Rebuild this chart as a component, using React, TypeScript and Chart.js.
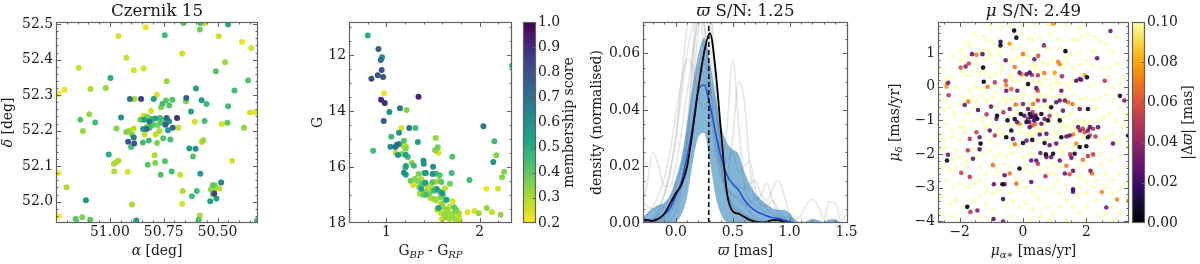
import React, { useEffect, useRef } from 'react';
import { Chart, registerables } from 'chart.js';

Chart.register(...registerables);

const FONT = "'DejaVu Serif', 'Liberation Serif', serif";
const TICK_SIZE = 13.9;
const LABEL_SIZE = 13.9;
const TITLE_SIZE = 16.7;
const FRAME_COLOR = '#616161';
const TEXT_COLOR = '#1a1a1a';

// ---------------- Panel 1: sky positions ----------------
const clusterName = 'Czernik 15';
const raRange = [50.312, 51.25];
const decRange = [51.94, 52.506];
const raTicks = [51.0, 50.75, 50.5];
const decTicks = [52.0, 52.1, 52.2, 52.3, 52.4, 52.5];
// [ra, dec, membership score]
const skyStars: [number, number, number][] = [
  [50.659,52.503,0.40],[50.579,52.503,0.45],[50.559,52.503,0.25],[50.451,52.499,0.50],[50.833,52.491,0.22],
  [50.582,52.485,0.38],[50.745,52.469,0.45],[50.960,52.466,0.25],[50.494,52.466,0.25],[50.386,52.450,0.22],
  [50.343,52.433,0.25],[50.664,52.417,0.25],[50.923,52.405,0.27],[50.465,52.393,0.32],[51.145,52.377,0.27],
  [50.889,52.370,0.25],[50.843,52.375,0.25],[50.508,52.367,0.42],[50.997,52.348,0.50],[50.736,52.339,0.33],
  [50.358,52.341,0.42],[51.211,52.315,0.22],[51.238,52.303,0.20],[51.090,52.317,0.30],[51.019,52.320,0.33],
  [50.600,52.319,0.55],[50.421,52.313,0.45],[50.907,52.289,0.70],[50.886,52.289,0.30],[50.855,52.289,0.85],
  [50.796,52.289,0.55],[50.782,52.301,0.25],[50.755,52.276,0.45],[50.739,52.285,0.40],[50.710,52.287,0.42],
  [50.645,52.292,0.75],[50.647,52.283,0.35],[50.574,52.286,0.55],[50.551,52.275,0.45],[50.451,52.269,0.45],
  [50.762,52.266,0.35],[50.724,52.271,0.42],[50.809,52.256,0.25],[50.623,52.254,0.55],[50.349,52.251,0.25],
  [50.324,52.252,0.22],[51.096,52.246,0.33],[50.844,52.242,0.25],[50.827,52.240,0.35],[50.948,52.237,0.60],
  [51.137,52.231,0.42],[50.858,52.231,0.38],[50.841,52.231,0.55],[50.816,52.226,0.70],[50.806,52.233,0.45],
  [50.789,52.234,0.55],[50.767,52.236,0.45],[50.750,52.229,0.42],[50.736,52.236,0.75],[50.725,52.226,0.60],
  [50.688,52.236,0.90],[50.682,52.208,0.28],[50.708,52.208,0.75],[50.742,52.217,0.75],[50.765,52.222,0.42],
  [50.778,52.215,0.35],[50.807,52.219,0.42],[50.798,52.217,0.40],[50.827,52.212,0.35],[50.846,52.205,0.55],
  [50.830,52.205,0.72],[50.815,52.208,0.45],[51.068,52.223,0.45],[50.969,52.206,0.35],[51.125,52.199,0.33],
  [50.924,52.196,0.35],[50.910,52.200,0.30],[50.889,52.206,0.28],[50.898,52.189,0.35],[50.889,52.181,0.65],
  [50.915,52.169,0.78],[50.887,52.164,0.78],[50.901,52.154,0.45],[50.847,52.167,0.45],[50.819,52.172,0.45],
  [50.838,52.189,0.28],[50.787,52.189,0.28],[50.770,52.199,0.30],[50.752,52.179,0.42],[50.730,52.201,0.55],
  [50.719,52.175,0.45],[50.781,52.165,0.35],[50.605,52.225,0.25],[50.560,52.227,0.45],[50.480,52.219,0.25],
  [50.454,52.222,0.40],[50.377,52.208,0.33],[50.566,52.173,0.32],[50.573,52.168,0.28],[50.631,52.150,0.55],
  [50.602,52.149,0.60],[50.614,52.127,0.42],[51.005,52.133,0.50],[50.981,52.107,0.30],[50.971,52.111,0.30],
  [50.960,52.115,0.30],[50.824,52.104,0.42],[50.792,52.131,0.30],[50.789,52.109,0.35],[50.744,52.114,0.42],
  [50.980,52.085,0.30],[50.917,52.084,0.25],[50.764,52.076,0.42],[50.713,52.085,0.45],[50.673,52.076,0.27],
  [50.580,52.079,0.55],[50.432,52.115,0.25],[51.238,52.080,0.20],[51.201,52.041,0.30],[50.662,52.030,0.30],
  [50.596,52.030,0.45],[50.619,52.015,0.45],[50.522,52.046,0.40],[50.512,52.046,0.35],[50.531,52.034,0.33],
  [50.515,52.034,0.30],[50.483,52.054,0.65],[50.492,52.037,0.28],[50.515,52.023,0.85],[50.522,52.020,0.35],
  [50.505,52.009,0.55],[50.534,52.001,0.55],[51.111,52.004,0.60],[50.664,51.994,0.25],[50.897,51.992,0.30],
  [51.238,51.959,0.20],[51.159,51.951,0.42],[51.128,51.956,0.35],[51.091,51.949,0.40],[50.877,51.947,0.55],
  [50.588,51.949,0.42],[50.582,51.961,0.30],[50.316,51.948,0.45],
];

// ---------------- Panel 2: colour-magnitude diagram ----------------
const colourRange = [0.6, 2.345];
const magRange = [10.82, 18.0];
const colourTicks = [1, 2];
const magTicks = [12, 14, 16, 18];
const memberRange = [0.2, 1.0];
const memberTicks = [0.2, 0.3, 0.4, 0.5, 0.6, 0.7, 0.8, 0.9, 1.0];
// [BP-RP, G, membership score]
const cmdStars: [number, number, number][] = [
  [0.801,11.298,0.50],[0.915,11.786,0.75],[0.954,12.083,0.60],[0.940,12.179,0.72],[0.950,12.536,0.78],
  [0.908,12.726,0.78],[0.840,12.845,0.80],[0.965,12.786,0.80],[0.975,13.369,0.22],[0.943,13.595,0.90],
  [0.982,13.714,0.90],[1.344,13.488,0.92],[1.145,13.905,0.68],[1.216,13.964,0.35],[1.032,14.036,0.60],
  [0.972,14.357,0.78],[1.160,14.607,0.25],[1.245,14.607,0.68],[1.312,14.607,0.45],[1.135,14.774,0.58],
  [1.053,14.917,0.45],[0.858,15.417,0.45],[1.043,15.274,0.60],[1.096,15.286,0.70],[1.113,15.202,0.72],
  [1.135,15.179,0.60],[1.188,15.060,0.42],[1.181,15.238,0.30],[1.213,15.274,0.28],[1.206,15.345,0.35],
  [1.099,15.500,0.30],[1.124,15.571,0.60],[1.167,15.536,0.35],[1.206,15.560,0.55],[1.230,15.643,0.45],
  [1.337,15.107,0.55],[1.528,14.964,0.33],[1.550,15.298,0.38],[1.521,15.405,0.35],[1.557,15.488,0.25],
  [1.706,15.631,0.42],[2.039,14.548,0.68],[2.156,15.083,0.45],[2.177,15.583,0.35],[2.145,15.821,0.60],
  [2.262,16.167,0.35],[2.238,16.369,0.35],[1.273,15.857,0.35],[1.209,15.964,0.55],[1.202,16.024,0.45],
  [1.294,15.952,0.45],[1.397,15.774,0.60],[1.401,15.881,0.60],[1.500,15.988,0.60],[1.188,16.202,0.60],
  [1.209,16.274,0.55],[1.344,16.250,0.35],[1.404,16.214,0.45],[1.422,16.214,0.58],[1.496,16.250,0.60],
  [1.532,16.238,0.45],[1.571,16.298,0.42],[1.699,16.214,0.45],[1.890,16.464,0.45],[1.259,16.488,0.38],
  [1.305,16.429,0.35],[1.333,16.500,0.35],[1.376,16.440,0.30],[1.287,16.643,0.25],[1.351,16.702,0.35],
  [1.387,16.595,0.42],[1.418,16.560,0.55],[1.433,16.655,0.28],[1.493,16.548,0.42],[1.532,16.524,0.30],
  [1.564,16.500,0.30],[1.589,16.536,0.42],[1.681,16.595,0.38],[1.372,16.774,0.55],[1.408,16.893,0.35],
  [1.436,16.845,0.30],[1.358,16.952,0.30],[1.390,16.988,0.35],[1.422,16.988,0.45],[1.457,16.952,0.35],
  [1.486,16.750,0.30],[1.507,16.845,0.45],[1.539,16.786,0.55],[1.564,16.869,0.42],[1.596,16.929,0.60],
  [1.628,16.762,0.28],[1.578,17.083,0.35],[1.606,16.988,0.42],[1.472,17.107,0.30],[1.514,17.143,0.33],
  [1.535,17.202,0.28],[1.621,17.202,0.35],[1.645,17.167,0.55],[1.709,17.226,0.25],[1.592,17.321,0.33],
  [1.557,17.464,0.55],[1.543,17.524,0.28],[1.606,17.440,0.33],[1.649,17.524,0.33],[1.677,17.417,0.28],
  [1.727,17.440,0.40],[1.582,17.643,0.27],[1.621,17.679,0.33],[1.660,17.607,0.30],[1.695,17.702,0.33],
  [1.727,17.619,0.33],[1.748,17.536,0.35],[1.777,17.643,0.30],[1.773,17.774,0.28],[1.596,17.857,0.27],
  [1.638,17.798,0.33],[1.677,17.857,0.30],[1.709,17.798,0.33],[1.741,17.881,0.30],[1.784,17.905,0.28],
  [1.762,17.964,0.27],[2.071,16.774,0.22],[2.195,16.774,0.25],[1.869,17.619,0.25],[1.943,17.571,0.25],
  [1.989,17.655,0.32],[2.074,17.464,0.33],[2.131,17.607,0.27],[2.223,17.702,0.33],[2.345,12.381,0.45],
];

// ---------------- Panel 3: parallax densities ----------------
const parallaxSN = '1.25';
const parallaxRange = [-0.287, 1.512];
const densityRange = [0, 0.0711];
const parallaxTicks = [0.0, 0.5, 1.0, 1.5];
const densityTicks = [0.0, 0.02, 0.04, 0.06];
const parallaxMarker = 0.29;
const parallaxGrid = [-0.30,-0.25,-0.20,-0.15,-0.10,-0.05,0.00,0.05,0.10,0.15,0.20,0.25,0.30,0.35,0.40,0.45,0.50,0.55,0.60,0.65,0.70,0.75,0.80,0.85,0.90,0.95,1.00,1.05,1.10,1.15,1.20,1.25,1.30,1.35,1.40,1.45,1.50,1.55];
const densityBlack = [0.0012,0.0011,0.0007,0.0015,0.0033,0.0068,0.0105,0.0135,0.020,0.033,0.048,0.0605,0.0672,0.054,0.0313,0.0105,0.0042,0.0033,0.0022,0.0011,0.0005,0.0002,0.0004,0.0010,0.0010,0.0004,0.0001,0,0,0,0,0,0,0,0,0,0,0];
const densityMedian = [0.0004,0.0007,0.0010,0.0017,0.0030,0.0052,0.0095,0.0145,0.0235,0.0345,0.047,0.0488,0.0417,0.032,0.023,0.017,0.0138,0.0117,0.0083,0.0059,0.0043,0.0033,0.0025,0.0019,0.0016,0.0011,0.0005,0.0001,0,0,0,0,0,0,0,0,0,0];
const densityUpper = [0.0015,0.0035,0.0052,0.0064,0.0072,0.0098,0.0155,0.023,0.035,0.049,0.060,0.0655,0.0575,0.0446,0.034,0.0285,0.026,0.0245,0.0185,0.0137,0.0104,0.0081,0.0065,0.0052,0.0047,0.0046,0.0035,0.0008,0.0001,0.0006,0.0015,0.0010,0.0003,0.0013,0.0013,0.0002,0,0];
const densityLower = [0,0,0,0,0,0,0.0003,0.003,0.0092,0.0215,0.0305,0.0318,0.022,0.0095,0.003,0.0003,0,0,0,0,0,0,0,0,0,0,0,0,0,0,0,0,0,0,0,0,0,0];
const densitySamples = [
  [0.003,0.014,0.025,0.020,0.013,0.013,0.020,0.032,0.046,0.060,0.072,0.078,0.064,0.040,0.020,0.010,0.007,0.005,0.003,0.002,0.001,0,0,0,0,0,0,0,0,0,0,0,0,0,0,0,0,0],
  [0,0,0.001,0.003,0.006,0.009,0.014,0.020,0.028,0.038,0.050,0.058,0.050,0.032,0.022,0.034,0.058,0.036,0.014,0.008,0.006,0.005,0.003,0.001,0,0,0,0,0,0,0,0,0,0,0,0,0,0],
  [0,0,0,0.001,0.002,0.004,0.007,0.014,0.028,0.048,0.068,0.080,0.074,0.048,0.026,0.018,0.030,0.050,0.044,0.020,0.008,0.010,0.014,0.008,0.003,0.001,0,0,0,0,0,0,0,0,0,0,0,0],
  [0,0,0.001,0.004,0.010,0.018,0.030,0.050,0.070,0.085,0.080,0.060,0.040,0.025,0.016,0.012,0.010,0.008,0.006,0.007,0.009,0.008,0.005,0.003,0.002,0.002,0.002,0.001,0.003,0.0065,0.0085,0.006,0.0015,0.0075,0.007,0.001,0.003,0.006],
  [0,0,0,0,0.001,0.003,0.008,0.016,0.030,0.045,0.055,0.052,0.040,0.028,0.020,0.016,0.014,0.013,0.012,0.014,0.015,0.010,0.008,0.012,0.015,0.010,0.003,0.001,0,0,0,0,0,0,0,0,0,0],
  [0,0,0,0,0,0.001,0.004,0.012,0.030,0.060,0.090,0.100,0.085,0.050,0.020,0.010,0.006,0.004,0.002,0.001,0,0,0,0,0,0,0,0,0,0,0,0,0,0,0,0,0,0],
  [0.001,0.003,0.006,0.010,0.016,0.025,0.038,0.050,0.058,0.055,0.045,0.040,0.045,0.040,0.025,0.012,0.006,0.004,0.003,0.002,0.001,0,0,0,0,0,0,0,0,0,0,0,0,0,0,0,0,0],
  [0,0,0,0,0.002,0.006,0.012,0.020,0.035,0.055,0.075,0.070,0.050,0.030,0.020,0.022,0.025,0.018,0.020,0.022,0.012,0.006,0.006,0.008,0.005,0.002,0,0,0,0,0,0,0,0,0,0,0,0],
  [0.008,0.006,0.005,0.006,0.010,0.018,0.030,0.045,0.060,0.070,0.075,0.070,0.050,0.030,0.018,0.012,0.010,0.009,0.007,0.004,0.002,0.001,0,0,0,0,0,0,0,0,0,0,0,0,0,0,0,0],
];

// ---------------- Panel 4: proper motions ----------------
const pmSN = '2.49';
const pmRaRange = [-2.684, 3.347];
const pmDecRange = [-4.05, 1.926];
const pmRaTicks = [-2, 0, 2];
const pmDecTicks = [1, 0, -1, -2, -3, -4];
const dparRange = [0, 0.1];
const dparTicks = [0.0, 0.02, 0.04, 0.06, 0.08, 0.1];
// [pmra, pmdec, |dparallax|]
const pmStars: [number, number, number][] = [
  [0.95,1.87,0.08],[-0.28,1.67,0.0],[-0.21,1.46,0.0],[2.76,1.66,0.03],[-0.71,1.34,0.015],[-0.71,1.23,0.005],
  [-0.42,1.28,0.08],[0.66,1.23,0.04],[1.34,1.06,0.0],[-1.61,0.97,0.03],[-1.47,0.95,0.07],[-1.28,0.97,0.025],
  [2.34,0.85,0.03],[0,0.97,0.07],[0.36,0.82,0.03],[0.48,0.92,0.06],[1.11,0.74,0.075],[1.16,0.67,0.075],
  [-0.55,0.79,0.03],[-1.71,0.69,0.055],[-1.81,0.60,0.04],[-1.97,0.57,0.06],[-1.26,0.57,0.0],[-0.26,0.59,0.07],
  [-0.11,0.42,0.03],[-0.05,0.37,0.07],[0.11,0.37,0.03],[0.21,0.42,0.02],[0.28,0.35,0.045],[0.47,0.34,0.05],
  [0.67,0.41,0.07],[1.00,0.42,0.08],[1.23,0.31,0.045],[-2.40,0.08,0.07],[-2.36,0.12,0.035],[-2.42,0.0,0.08],
  [-2.35,-0.25,0.05],[-1.24,0.15,0.0],[-1.12,0.0,0.07],[-0.89,0.13,0.05],[-0.55,0.18,0.055],[-0.53,0.05,0.07],
  [-0.53,-0.12,0.03],[-0.37,-0.07,0.065],[-0.18,-0.12,0.03],[0.16,0.08,0.005],[0.42,-0.04,0.03],[0.46,-0.12,0.055],
  [1.21,-0.12,0.03],[1.79,0.23,0.03],[1.95,0.34,0.08],[2.02,0.28,0.005],[1.68,0.18,0.025],[1.84,0.21,0.03],
  [2.58,0.18,0.05],[3.06,-0.27,0.005],[3.20,-0.41,0.035],[-1.84,-0.54,0.03],[-1.73,-0.44,0.07],[-1.01,-0.59,0.03],
  [-1.42,-0.69,0.025],[-1.15,-0.82,0.05],[-0.82,-0.86,0.0],[-0.62,-0.76,0.05],[-0.42,-0.66,0.03],[-0.23,-0.53,0.07],
  [0,-0.51,0.035],[0.16,-0.66,0.03],[0.32,-0.51,0.07],[0.47,-0.41,0.05],[0.68,-0.41,0.03],[0.89,-0.61,0.005],
  [1.05,-0.46,0.03],[1.16,-0.41,0.03],[1.32,-0.41,0.03],[1.42,-0.46,0.07],[1.56,-0.51,0.07],[1.79,-0.66,0.03],
  [2.05,-0.66,0.005],[1.26,-0.71,0.03],[-0.07,-0.81,0.0],[0.04,-0.86,0.02],[0.21,-0.81,0.01],[0.32,-0.86,0.03],
  [0.39,-0.91,0.02],[0.58,-0.81,0.005],[0.68,-0.96,0.03],[0.84,-0.86,0.05],[1.16,-1.00,0.0],[0.79,-1.00,0.005],
  [-0.84,-0.96,0.03],[-0.49,-1.00,0.005],[-0.26,-0.96,0.005],[-0.19,-1.05,0.03],[-0.11,-1.10,0.075],[0.11,-1.05,0.01],
  [0.39,-1.10,0.07],[0.58,-1.10,0.03],[1.74,-1.20,0.03],[1.89,-1.25,0.05],[2.11,-1.20,0.025],[2.21,-1.25,0.05],
  [2.37,-1.20,0.03],[-0.37,-1.30,0.005],[0.21,-1.20,0.03],[-1.05,-1.30,0.03],[-1.47,-1.35,0.055],[-0.89,-1.45,0.05],
  [-0.53,-1.50,0.0],[-0.32,-1.55,0.03],[0.29,-1.58,0.005],[0.53,-1.42,0.03],[0.74,-1.40,0.03],[1.21,-1.50,0.0],
  [1.37,-1.48,0.03],[1.47,-1.45,0.025],[1.58,-1.42,0.07],[2.05,-1.50,0.005],[2.11,-1.45,0.05],[2.29,-1.48,0.05],
  [-1.37,-1.50,0.03],[-1.68,-1.55,0.05],[-1.34,-1.69,0.0],[-1.37,-1.86,0.025],[-1.74,-1.89,0.05],[-0.26,-1.71,0.07],
  [0,-1.67,0.005],[0.11,-1.60,0.03],[0.68,-1.67,0.005],[0.84,-1.74,0.03],[1.05,-1.69,0.03],[1.68,-1.69,0.075],
  [1.79,-1.79,0.0],[2.00,-1.77,0.005],[2.84,-1.69,0.03],[3.32,-1.45,0.0],[0.55,-1.97,0.03],[0.72,-2.01,0.005],
  [0.74,-2.09,0.03],[0.89,-2.09,0.03],[0.95,-1.99,0.005],[1.16,-2.19,0.03],[1.49,-2.01,0.05],[1.63,-1.99,0.005],
  [1.53,-2.11,0.03],[2.05,-2.06,0.05],[2.21,-2.01,0.055],[1.89,-2.17,0.07],[-2.37,-2.02,0.03],[-2.40,-2.19,0.005],
  [-1.58,-2.14,0.03],[0.26,-2.19,0.03],[0.42,-2.19,0.03],[0.47,-2.29,0.05],[-0.11,-2.43,0.0],[-0.95,-2.33,0.07],
  [1.37,-2.35,0.07],[1.47,-2.60,0.06],[1.58,-2.50,0.03],[-1.95,-2.56,0.055],[-1.68,-2.68,0.05],[-0.58,-2.63,0.03],
  [-0.42,-2.58,0.07],[-0.21,-2.88,0.07],[0.26,-2.83,0.03],[0.71,-2.66,0.05],[1.32,-2.58,0.03],[1.58,-3.05,0.02],
  [1.58,-3.12,0.025],[2.13,-2.50,0.035],[2.18,-2.58,0.07],[2.49,-3.13,0.075],[-0.92,-2.90,0.03],[-0.65,-2.90,0.0],
  [-0.58,-2.90,0.03],[-0.63,-3.34,0.02],[-1.76,-3.57,0.0],[-1.66,-3.72,0.05],[-1.44,-3.68,0.035],[-0.93,-3.93,0.025],
  [-0.63,-4.01,0.03],[2.63,-3.59,0.035],[2.97,-3.35,0.075],[3.32,-3.39,0.08],
  [0.25,-0.90,0.01],[0.35,-1.00,0.02],[0.40,-0.85,0.04],[0.30,-1.15,0.06],[0.20,-1.05,0.03],[0.45,-0.95,0.005],
  [0.30,-0.75,0.05],[0.15,-0.95,0.04],[1.80,-1.30,0.04],[1.95,-1.35,0.06],[2.05,-1.30,0.03],
];
// stars with |dparallax| above the colour range
const pmFaint: [number, number][] = [
  [-1.05,1.83],[-0.68,1.77],[-0.37,1.83],[0,1.80],[0.37,1.85],[0.84,1.83],[1.37,1.83],[1.79,1.75],[2.00,1.87],[2.05,1.56],
  [2.26,1.51],[-1.53,1.56],[-1.26,1.51],[-1.14,1.38],[-0.95,1.31],[-0.05,1.56],[0.16,1.46],[0.32,1.38],[0.53,1.46],[0.84,1.56],
  [1.11,1.41],[1.58,1.41],[1.74,1.36],[1.84,1.51],[1.16,1.16],[0.74,1.16],[0.42,1.11],[0.11,1.06],[-0.11,1.21],[-0.32,1.11],
  [-1.05,1.01],[-1.21,1.11],[-1.37,1.06],[-1.68,1.21],[-0.79,1.16],[1.37,0.87],[1.53,0.97],[1.79,1.01],[2.21,1.06],[2.63,1.26],
  [2.84,1.06],[2.42,1.36],[2.95,1.46],[-1.74,1.31],[-1.95,1.06],[-2.16,0.92],
  [-1.95,0.77],[-1.74,0.87],[-1.47,0.75],[-1.16,0.82],[-1.00,0.92],[-0.89,0.72],[-0.74,0.97],[-0.68,0.62],[-0.47,0.82],[-0.32,0.77],
  [-0.16,0.87],[0,0.72],[0.16,0.87],[0.26,0.67],[0.42,0.62],[0.63,0.72],[0.79,0.67],[0.95,0.82],[1.26,0.57],[1.42,0.72],
  [1.58,0.57],[1.79,0.67],[2.00,0.77],[2.21,0.62],[2.47,0.57],[2.74,0.57],[3.00,0.67],[3.21,0.33],[-1.89,0.42],[-1.74,0.33],
  [-1.58,0.47],[-1.37,0.37],[-1.16,0.42],[-1.05,0.28],[-0.84,0.37],[-0.68,0.47],[-0.42,0.28],[-0.32,0.18],[-0.11,0.13],[0.32,0.18],
  [0.53,0.13],[0.74,0.23],[0.89,0.08],[1.05,0.13],[1.37,0.08],[1.53,0.18],[2.11,0.03],[2.32,0.08],[2.84,-0.02],[3.05,0.08],
  [-2.42,0.23],[-2.53,0.47],[-2.26,0.28],[-2.11,-0.02],[-1.68,-0.12],[-1.53,0.03],[-1.37,-0.07],[-1.16,-0.12],[-0.84,-0.17],[-0.68,-0.02],
  [-2.63,-0.22],[-2.47,-0.41],[-2.32,-0.61],[-2.16,-0.81],[-2.00,-0.51],[-1.89,-0.32],[-1.63,-0.32],[-1.47,-0.41],[-1.32,-0.27],[-1.16,-0.41],
  [-0.95,-0.32],[-0.74,-0.46],[-0.63,-0.32],[-0.47,-0.41],[-0.32,-0.36],[-0.16,-0.32],[0,-0.22],[0.21,-0.27],[0.42,-0.32],[0.58,-0.22],
  [0.74,-0.27],[0.95,-0.32],[1.16,-0.27],[1.37,-0.32],[1.58,-0.22],[1.79,-0.36],[2.00,-0.32],[2.21,-0.41],[2.42,-0.32],[2.63,-0.22],
  [2.84,-0.41],[3.05,-0.61],[3.26,-0.81],[-2.63,-0.91],[-2.42,-1.10],[-2.26,-1.30],[-2.00,-1.20],[-1.89,-1.00],[-1.74,-0.81],[-1.58,-1.00],
  [-1.26,-1.05],[-1.16,-1.20],[-1.00,-1.10],[-0.74,-1.20],[-0.63,-1.40],[-0.42,-1.79],[-0.11,-1.35],[0.11,-1.40],[0.42,-1.35],[0.63,-1.30],
  [0.95,-1.20],[1.05,-1.35],[1.26,-1.30],[1.42,-1.25],[1.58,-1.10],[1.68,-1.00],[1.89,-1.00],[2.00,-1.10],[2.32,-1.00],[2.53,-0.91],
  [2.74,-0.81],[2.95,-1.00],[3.16,-1.20],[-2.63,-1.40],[-2.53,-1.60],[-2.21,-1.50],[-2.00,-1.60],[-1.84,-1.40],[-1.05,-1.60],[-0.84,-1.69],
  [-0.11,-1.79],[0.32,-1.79],[1.16,-1.79],[1.37,-1.69],[1.58,-1.79],[2.42,-1.60],[2.63,-1.50],[2.84,-1.40],[3.05,-1.60],[3.26,-1.79],
  [-2.58,-1.89],[-2.42,-1.79],[-2.11,-1.89],[-2.00,-2.09],[-1.79,-2.19],[-1.47,-2.09],[-1.26,-1.99],[-1.05,-1.89],[-0.89,-2.09],[-0.74,-1.99],
  [-0.53,-2.09],[-0.32,-1.99],[0,-2.09],[0.21,-1.99],[0.95,-2.29],[1.16,-2.38],[1.79,-2.38],[2.00,-2.29],[2.42,-1.99],[2.74,-2.19],
  [3.05,-2.09],[3.26,-2.38],[-2.53,-2.38],[-2.32,-2.48],[-2.11,-2.38],[-1.79,-2.38],[-1.37,-2.38],[-1.16,-2.58],[-0.84,-2.48],[-0.63,-2.29],
  [-0.42,-2.38],[0.11,-2.48],[0.32,-2.58],[0.53,-2.48],[0.74,-2.38],[0.95,-2.58],[1.79,-2.68],[2.00,-2.83],[2.32,-2.78],[2.63,-2.58],
  [2.84,-2.78],[3.05,-2.58],[3.26,-2.88],[-2.42,-2.78],[-2.21,-2.98],[-2.00,-2.88],[-1.79,-2.98],[-1.58,-2.88],[-1.37,-2.78],[-1.16,-2.98],
  [-0.95,-3.17],[-0.74,-3.07],[-0.42,-3.17],[-0.11,-3.07],[0.11,-2.98],[0.32,-3.17],[0.53,-2.98],[0.74,-3.07],[0.95,-2.98],[1.16,-3.17],
  [1.37,-2.98],[1.79,-2.98],[2.00,-3.17],[2.21,-2.98],[2.63,-2.98],[2.84,-3.17],[3.05,-3.07],[-2.53,-3.27],[-2.32,-3.47],[-2.11,-3.37],
  [-1.89,-3.57],[-1.58,-3.37],[-1.37,-3.27],[-1.16,-3.47],[-0.95,-3.66],[-0.53,-3.47],[-0.32,-3.37],[-0.11,-3.57],[0.11,-3.47],[0.32,-3.66],
  [0.53,-3.37],[0.74,-3.57],[0.95,-3.76],[1.16,-3.57],[1.37,-3.37],[1.58,-3.57],[1.79,-3.76],[2.00,-3.57],[2.32,-3.37],[2.63,-3.76],
  [2.84,-3.57],[3.05,-3.76],[-2.53,-3.76],[-2.21,-3.86],[-2.00,-3.96],[-1.37,-3.86],[-1.05,-3.96],[-0.32,-3.86],[0.21,-3.96],[0.53,-3.86],
  [0.84,-3.96],[1.37,-3.96],[2.00,-3.96],[2.42,-3.86],[2.84,-3.96],
  [0.1,-0.6],[0.5,-0.6],[0.8,-0.7],[-0.2,-0.75],[0.6,-1.25],[0.2,-1.35],[-0.3,-0.9],[0.9,-1.0],[1.3,-0.9],[1.5,-0.8],
  [-0.6,-0.7],[-0.9,-0.6],[0.05,0.0],[0.6,0.05],[0.9,-0.1],[-0.4,0.35],[0.35,0.5],[1.0,0.3],[1.35,-1.15],[1.7,-1.4],
  [2.1,-1.05],[1.95,-1.5],[0.7,-1.55],[0.4,-1.6],[-0.8,-1.35],[-1.3,-0.9],[-1.5,-0.6],[1.25,-1.95],[0.6,-2.0],[1.45,-0.05],
  [0.12,-0.92],[0.28,-0.62],[0.52,-0.78],[0.66,-1.12],[0.45,-1.25],[-0.05,-1.2],[-0.15,-0.55],[0.2,-0.45],[0.75,-0.55],[1.05,-0.82],
  [1.2,-1.1],[0.95,-1.45],[0.3,-1.45],[-0.45,-1.15],[-0.55,-0.5],[0.02,0.3],[0.55,0.42],[1.15,0.1],[-0.95,0.0],[-1.35,0.55],
  [1.62,-1.28],[1.88,-1.12],[2.2,-1.42],[1.72,-0.55],[2.3,-0.62],[-1.85,-1.2],[-1.55,-1.85],[0.1,-2.3],[0.8,-2.55],[-0.7,-2.6],
  [1.1,-2.75],[-0.25,-2.75],[1.75,-3.2],[-1.2,-3.15],[0.45,-3.3],[2.45,-2.3],[-2.2,-2.15],[2.7,0.3],[-2.5,-0.7],[3.2,-1.1],
];

// ---------------- colour maps ----------------
const VIRIDIS = ['#440154','#482475','#414487','#355f8d','#2a788e','#21918c','#22a884','#44bf70','#7ad151','#bddf26','#fde725'];
const INFERNO = ['#000004','#160b39','#420a68','#6a176e','#932667','#bc3754','#dd513a','#f37819','#fca50a','#f6d746','#fcffa4'];

const hexRGB = (h: string) => [1, 3, 5].map((i) => parseInt(h.slice(i, i + 2), 16));
function cmap(stops: string[], t: number): number[] {
  const tt = Math.min(1, Math.max(0, t));
  const n = stops.length - 1;
  const f = tt * n;
  const i = Math.min(n - 1, Math.floor(f));
  const u = f - i;
  const a = hexRGB(stops[i]);
  const b = hexRGB(stops[i + 1]);
  return [0, 1, 2].map((k) => Math.round(a[k] + (b[k] - a[k]) * u));
}
const rgba = (c: number[], al = 1) => `rgba(${c[0]},${c[1]},${c[2]},${al})`;
const memberT = (s: number) => 1 - (s - memberRange[0]) / (memberRange[1] - memberRange[0]);
const memberColour = (s: number) => rgba(cmap(VIRIDIS, memberT(s)));
const dparT = (v: number) => (v - dparRange[0]) / (dparRange[1] - dparRange[0]);

// ---------------- drawing helpers ----------------
type Seg = { t: string; it?: boolean; sub?: boolean };
type Lbl = { segs: Seg[]; x: number | 'center'; y: number; size: number; rot?: boolean };

function drawRich(ctx: CanvasRenderingContext2D, l: Lbl, x: number) {
  ctx.save();
  ctx.fillStyle = TEXT_COLOR;
  ctx.textBaseline = 'alphabetic';
  ctx.textAlign = 'left';
  ctx.translate(x, l.y);
  if (l.rot) ctx.rotate(-Math.PI / 2);
  const fonts = l.segs.map((s) => `${s.it ? 'italic ' : ''}${s.sub ? (l.size * 0.72).toFixed(1) : l.size}px ${FONT}`);
  const widths = l.segs.map((s, i) => { ctx.font = fonts[i]; return ctx.measureText(s.t).width; });
  let cx = -widths.reduce((a, b) => a + b, 0) / 2;
  l.segs.forEach((s, i) => {
    ctx.font = fonts[i];
    ctx.fillText(s.t, cx, s.sub ? l.size * 0.22 : 0);
    cx += widths[i];
  });
  ctx.restore();
}

function steps(min: number, max: number, step: number) {
  const out: number[] = [];
  const lo = Math.min(min, max), hi = Math.max(min, max);
  const k0 = Math.ceil(lo / step - 1e-6), k1 = Math.floor(hi / step + 1e-6);
  for (let k = k0; k <= k1; k++) out.push(k * step);
  return out;
}

type DecorCfg = {
  left: number;
  xMajor?: number[]; xMinor?: number;
  yMajor: number[]; yMinor?: number;
  colorbar?: (t: number) => string;
  labels: Lbl[];
};

function decor(cfg: DecorCfg) {
  return {
    id: 'decor',
    beforeDatasetsDraw(chart: any) {
      if (!cfg.colorbar) return;
      const { ctx, chartArea: a } = chart;
      const g = ctx.createLinearGradient(0, a.bottom, 0, a.top);
      for (let i = 0; i <= 50; i++) g.addColorStop(i / 50, cfg.colorbar(i / 50));
      ctx.save();
      ctx.fillStyle = g;
      ctx.fillRect(a.left, a.top, a.right - a.left, a.bottom - a.top);
      ctx.restore();
    },
    afterDatasetsDraw(chart: any) {
      const { ctx, chartArea: a, scales } = chart;
      const xs = scales.x, ys = scales.y;
      ctx.save();
      ctx.strokeStyle = FRAME_COLOR;
      ctx.lineWidth = 1;
      ctx.beginPath();
      const xt = (vals: number[], len: number) => vals.forEach((v) => {
        const p = Math.round(xs.getPixelForValue(v)) + 0.5;
        if (p < a.left + 1 || p > a.right - 1) return;
        ctx.moveTo(p, a.bottom); ctx.lineTo(p, a.bottom - len);
        ctx.moveTo(p, a.top); ctx.lineTo(p, a.top + len);
      });
      const yt = (vals: number[], len: number, both: boolean) => vals.forEach((v) => {
        const p = Math.round(ys.getPixelForValue(v)) + 0.5;
        if (p < a.top + 1 || p > a.bottom - 1) return;
        ctx.moveTo(a.right, p); ctx.lineTo(a.right - len, p);
        if (both) { ctx.moveTo(a.left, p); ctx.lineTo(a.left + len, p); }
      });
      const both = !cfg.colorbar;
      if (cfg.xMajor) {
        xt(cfg.xMajor, 5);
        if (cfg.xMinor) xt(steps(xs.min, xs.max, cfg.xMinor), 2.5);
      }
      yt(cfg.yMajor, cfg.colorbar ? 3.5 : 5, both);
      if (cfg.yMinor) yt(steps(ys.min, ys.max, cfg.yMinor), 2.5, both);
      ctx.stroke();
      ctx.lineWidth = 1.2;
      ctx.strokeRect(a.left + 0.5, a.top + 0.5, a.right - a.left - 1, a.bottom - a.top - 1);
      ctx.restore();
    },
    afterDraw(chart: any) {
      const { ctx, chartArea: a } = chart;
      cfg.labels.forEach((l) => {
        const x = l.x === 'center' ? (a.left + a.right) / 2 : l.x - cfg.left;
        drawRich(ctx, l, x);
      });
    },
  };
}

function axis(o: {
  min: number; max: number; ticks: number[]; fmt: (v: number) => string; size: number;
  horizontal: boolean; reverse?: boolean; pad: number; position?: string; display?: boolean;
}) {
  return {
    type: 'linear',
    position: o.position,
    display: o.display === undefined ? true : o.display,
    min: o.min, max: o.max, reverse: !!o.reverse,
    grid: { display: false, drawTicks: false },
    border: { display: false },
    ticks: {
      autoSkip: false, maxRotation: 0, minRotation: 0, padding: o.pad,
      color: TEXT_COLOR, font: { family: FONT, size: TICK_SIZE },
      callback: (v: any) => o.fmt(Number(v)),
    },
    afterBuildTicks: (s: any) => { s.ticks = o.ticks.map((v) => ({ value: v })); },
    afterFit: (s: any) => {
      if (o.horizontal) s.height = o.size; else s.width = o.size;
      s.paddingLeft = 0; s.paddingRight = 0; s.paddingTop = 0; s.paddingBottom = 0;
    },
  };
}

const baseOptions = (padding: any) => ({
  responsive: false,
  animation: false,
  devicePixelRatio: 1,
  events: [],
  layout: { padding },
  plugins: { legend: { display: false }, tooltip: { enabled: false }, title: { display: false } },
});

const minus = (v: number) => (v < 0 ? '\u2212' : '') + String(Math.abs(v));
const X_PAD = 1;
const Y_PAD = 3;
const TITLE_BASE = 16;
const XLABEL_BASE = 255;
const MID_Y = 122.5;

// ---------------- chart configs ----------------
function skyConfig(): any {
  const pts = [...skyStars].sort((a, b) => a[2] - b[2]);
  return {
    type: 'scatter',
    data: {
      datasets: [{
        data: pts.map((p) => ({ x: p[0], y: p[1] })),
        backgroundColor: pts.map((p) => memberColour(p[2])),
        borderColor: 'transparent', borderWidth: 0, pointBorderWidth: 0,
        pointRadius: 3, pointHoverRadius: 3, clip: 0,
      }],
    },
    options: {
      ...baseOptions({ left: 0, right: 32, top: 22, bottom: 0 }),
      scales: {
        x: axis({ min: raRange[0], max: raRange[1], ticks: raTicks, fmt: (v) => v.toFixed(2), size: 41, horizontal: true, reverse: true, pad: X_PAD }),
        y: axis({ min: decRange[0], max: decRange[1], ticks: decTicks, fmt: (v) => v.toFixed(1), size: 56, horizontal: false, pad: Y_PAD }),
      },
    },
    plugins: [decor({
      left: 0, xMajor: raTicks, xMinor: 0.05, yMajor: decTicks, yMinor: 0.02,
      labels: [
        { segs: [{ t: clusterName }], x: 'center', y: TITLE_BASE, size: TITLE_SIZE },
        { segs: [{ t: 'α', it: true }, { t: ' [deg]' }], x: 'center', y: XLABEL_BASE, size: LABEL_SIZE },
        { segs: [{ t: 'δ', it: true }, { t: ' [deg]' }], x: 12, y: MID_Y, size: LABEL_SIZE, rot: true },
      ],
    })],
  };
}

function cmdConfig(): any {
  const pts = [...cmdStars].sort((a, b) => a[2] - b[2]);
  return {
    type: 'scatter',
    data: {
      datasets: [{
        data: pts.map((p) => ({ x: p[0], y: p[1] })),
        backgroundColor: pts.map((p) => memberColour(p[2])),
        borderColor: 'transparent', borderWidth: 0, pointBorderWidth: 0,
        pointRadius: 3, pointHoverRadius: 3, clip: 0,
      }],
    },
    options: {
      ...baseOptions({ left: 20, right: 2, top: 22, bottom: 0 }),
      scales: {
        x: axis({ min: colourRange[0], max: colourRange[1], ticks: colourTicks, fmt: (v) => String(v), size: 41, horizontal: true, pad: X_PAD }),
        y: axis({ min: magRange[0], max: magRange[1], ticks: magTicks, fmt: (v) => String(v), size: 39, horizontal: false, reverse: true, pad: Y_PAD }),
      },
    },
    plugins: [decor({
      left: 290, xMajor: colourTicks, xMinor: 0.2, yMajor: magTicks, yMinor: 0.5,
      labels: [
        { segs: [{ t: 'G' }, { t: 'BP', it: true, sub: true }, { t: ' - G' }, { t: 'RP', it: true, sub: true }], x: 'center', y: XLABEL_BASE, size: LABEL_SIZE },
        { segs: [{ t: 'G' }], x: 321.5, y: MID_Y, size: LABEL_SIZE, rot: true },
      ],
    })],
  };
}

function colourbarConfig(left: number, padLeft: number, width: number, range: number[], ticks: number[], fmt: (v: number) => string, grad: (t: number) => string, label: Seg[], labelX: number): any {
  return {
    type: 'scatter',
    data: { datasets: [{ data: [] }] },
    options: {
      ...baseOptions({ left: padLeft, right: 0, top: 22, bottom: 41 }),
      scales: {
        x: { type: 'linear', display: false, min: 0, max: 1 },
        y: axis({ min: range[0], max: range[1], ticks, fmt, size: width, horizontal: false, pad: 2, position: 'right' }),
      },
    },
    plugins: [decor({
      left, yMajor: ticks, colorbar: grad,
      labels: [{ segs: label, x: labelX, y: MID_Y, size: LABEL_SIZE, rot: true }],
    })],
  };
}

function parallaxConfig(): any {
  const line = (ys: number[]) => parallaxGrid.map((x, i) => ({ x, y: ys[i] }));
  const common = { pointRadius: 0, pointHoverRadius: 0, cubicInterpolationMode: 'monotone', clip: 0 };
  const datasets: any[] = [
    { ...common, data: [{ x: parallaxMarker, y: densityRange[0] }, { x: parallaxMarker, y: densityRange[1] * 1.2 }], borderColor: '#000000', borderWidth: 1.6, borderDash: [5, 3], cubicInterpolationMode: 'default', tension: 0, fill: false, order: 1 },
    { ...common, data: line(densityBlack), borderColor: '#000000', borderWidth: 1.8, fill: false, order: 2 },
    { ...common, data: line(densityMedian), borderColor: '#1f4fdc', borderWidth: 1.5, fill: false, order: 3 },
    { ...common, data: line(densityLower), borderColor: 'transparent', borderWidth: 0, fill: false, order: 4 },
    { ...common, data: line(densityUpper), borderColor: 'transparent', borderWidth: 0, backgroundColor: 'rgba(31,119,180,0.55)', fill: '-1', order: 4 },
    ...densitySamples.map((s) => ({ ...common, data: line(s), borderColor: 'rgba(150,150,150,0.25)', borderWidth: 1.6, fill: false, order: 6 })),
  ];
  return {
    type: 'line',
    data: { datasets },
    options: {
      ...baseOptions({ left: 11, right: 12, top: 22, bottom: 0 }),
      scales: {
        x: axis({ min: parallaxRange[0], max: parallaxRange[1], ticks: parallaxTicks, fmt: (v) => v.toFixed(1), size: 41, horizontal: true, pad: X_PAD }),
        y: axis({ min: densityRange[0], max: densityRange[1], ticks: densityTicks, fmt: (v) => v.toFixed(2), size: 54, horizontal: false, pad: Y_PAD }),
      },
    },
    plugins: [decor({
      left: 578, xMajor: parallaxTicks, xMinor: 0.1, yMajor: densityTicks, yMinor: 0.005,
      labels: [
        { segs: [{ t: 'ϖ', it: true }, { t: ' S/N: ' + parallaxSN }], x: 'center', y: TITLE_BASE, size: TITLE_SIZE },
        { segs: [{ t: 'ϖ', it: true }, { t: ' [mas]' }], x: 'center', y: XLABEL_BASE, size: LABEL_SIZE },
        { segs: [{ t: 'density (normalised)' }], x: 601, y: MID_Y, size: LABEL_SIZE, rot: true },
      ],
    })],
  };
}

function pmConfig(): any {
  const coloured = [...pmStars].sort((a, b) => b[2] - a[2]);
  const faintColour = rgba(cmap(INFERNO, 1), 0.7);
  return {
    type: 'scatter',
    data: {
      datasets: [
        {
          data: coloured.map((p) => ({ x: p[0], y: p[1] })),
          backgroundColor: coloured.map((p) => rgba(cmap(INFERNO, dparT(p[2])), 0.9)),
          borderColor: 'transparent', borderWidth: 0, pointBorderWidth: 0,
          pointRadius: 2.3, pointHoverRadius: 2.3, clip: 0, order: 1,
        },
        {
          data: pmFaint.map((p) => ({ x: p[0], y: p[1] })),
          backgroundColor: faintColour,
          borderColor: 'transparent', borderWidth: 0, pointBorderWidth: 0,
          pointRadius: 2.3, pointHoverRadius: 2.3, clip: 0, order: 2,
        },
      ],
    },
    options: {
      ...baseOptions({ left: 0, right: 3, top: 22, bottom: 0 }),
      scales: {
        x: axis({ min: pmRaRange[0], max: pmRaRange[1], ticks: pmRaTicks, fmt: minus, size: 41, horizontal: true, pad: X_PAD }),
        y: axis({ min: pmDecRange[0], max: pmDecRange[1], ticks: pmDecTicks, fmt: minus, size: 76, horizontal: false, pad: Y_PAD }),
      },
    },
    plugins: [decor({
      left: 862, xMajor: pmRaTicks, xMinor: 0.5, yMajor: pmDecTicks, yMinor: 0.2,
      labels: [
        { segs: [{ t: 'μ', it: true }, { t: ' S/N: ' + pmSN }], x: 'center', y: TITLE_BASE, size: TITLE_SIZE },
        { segs: [{ t: 'μ', it: true }, { t: 'α', it: true, sub: true }, { t: '∗', sub: true }, { t: ' [mas/yr]' }], x: 'center', y: XLABEL_BASE, size: LABEL_SIZE },
        { segs: [{ t: 'μ', it: true }, { t: 'δ', it: true, sub: true }, { t: ' [mas/yr]' }], x: 899, y: MID_Y, size: LABEL_SIZE, rot: true },
      ],
    })],
  };
}

const PANELS = [
  { left: 0, width: 290 },
  { left: 290, width: 225 },
  { left: 515, width: 64 },
  { left: 578, width: 282 },
  { left: 862, width: 270 },
  { left: 1130, width: 70 },
];

export default function App() {
  const refs = [useRef<HTMLCanvasElement>(null), useRef<HTMLCanvasElement>(null), useRef<HTMLCanvasElement>(null),
    useRef<HTMLCanvasElement>(null), useRef<HTMLCanvasElement>(null), useRef<HTMLCanvasElement>(null)];

  useEffect(() => {
    const configs = [
      skyConfig(),
      cmdConfig(),
      colourbarConfig(515, 8, 43, memberRange, memberTicks, (v) => v.toFixed(1),
        (t) => memberColour(memberRange[0] + t * (memberRange[1] - memberRange[0])),
        [{ t: 'membership score' }], 573),
      parallaxConfig(),
      pmConfig(),
      colourbarConfig(1130, 2, 55, dparRange, dparTicks, (v) => v.toFixed(2),
        (t) => rgba(cmap(INFERNO, t)),
        [{ t: '|Δ' }, { t: 'ϖ', it: true }, { t: '| [mas]' }], 1192),
    ];
    const charts = configs.map((c, i) => new Chart(refs[i].current as HTMLCanvasElement, c));
    return () => charts.forEach((c) => c.destroy());
  }, []);

  return (
    <div style={{ position: 'absolute', left: 0, top: 0, width: 1200, height: 264, background: '#ffffff', overflow: 'hidden' }}>
      {PANELS.map((p, i) => (
        <canvas key={i} ref={refs[i]} width={p.width} height={264}
          style={{ position: 'absolute', left: p.left, top: 0, width: p.width, height: 264 }} />
      ))}
    </div>
  );
}
